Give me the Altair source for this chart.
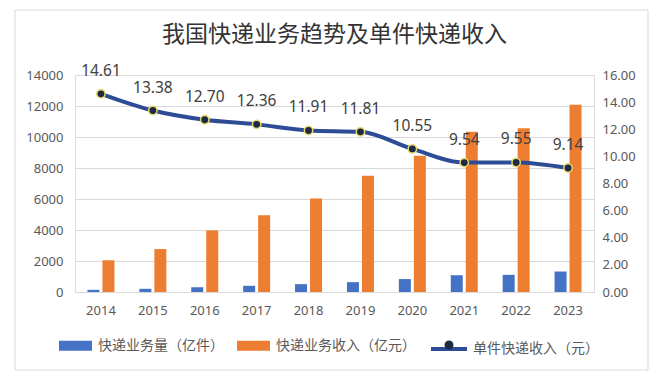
import altair as alt
import pandas as pd

years = ["2014", "2015", "2016", "2017", "2018", "2019", "2020", "2021", "2022", "2023"]
volume = [139.6, 206.7, 312.8, 400.6, 507.1, 635.2, 833.6, 1083.0, 1105.8, 1320.7]
revenue = [2045.4, 2769.6, 3974.4, 4957.1, 6038.4, 7497.8, 8795.4, 10332.3, 10566.7, 12074.0]
unit_rev = [14.61, 13.38, 12.70, 12.36, 11.91, 11.81, 10.55, 9.54, 9.55, 9.14]

s_vol = "快递业务量（亿件）"
s_rev = "快递业务收入（亿元）"
s_unit = "单件快递收入（元）"
title_text = "我国快递业务趋势及单件快递收入"

bars_df = pd.DataFrame(
    {"year": years * 2, "series": [s_vol] * len(years) + [s_rev] * len(years), "value": volume + revenue}
)
line_df = pd.DataFrame({"year": years, "unit": unit_rev, "lname": [s_unit] * len(years)})

CJK = "Noto Sans CJK SC"
LAT = "Noto Sans"
GRAY = "#595959"

x_enc = alt.X(
    "year:N",
    sort=years,
    title=None,
    scale=alt.Scale(paddingInner=0.48, paddingOuter=0.24),
    axis=alt.Axis(labelAngle=0, ticks=False, domainColor="#d9d9d9", labelPadding=12,
                  labelFont=LAT, labelFontSize=13, labelColor=GRAY),
)

border = alt.Chart(pd.DataFrame({"a": [0]})).mark_rect(
    filled=False, stroke="#d9d9d9", strokeWidth=1
).encode(x=alt.value(-60), x2=alt.value(573), y=alt.value(-65), y2=alt.value(295))

bars = alt.Chart(bars_df).mark_bar().encode(
    x=x_enc,
    xOffset=alt.XOffset("series:N", scale=alt.Scale(domain=[s_vol, s_rev], paddingInner=0.2)),
    y=alt.Y("value:Q", title=None, scale=alt.Scale(domain=[0, 14000]),
            axis=alt.Axis(values=list(range(0, 14001, 2000)), format="d", domain=False, ticks=False,
                          labelPadding=12, gridColor="#d9d9d9", labelFont=LAT, labelFontSize=13,
                          labelColor=GRAY)),
    color=alt.Color("series:N", scale=alt.Scale(domain=[s_vol, s_rev], range=["#4472C4", "#ED7D31"]),
                    legend=alt.Legend(title=None, orient="none", direction="horizontal",
                                      legendX=-16, legendY=254,
                                      symbolType="M-1,-0.3H1V0.3H-1Z", symbolSize=1089,
                                      symbolStrokeWidth=0, labelOffset=6, columnPadding=13,
                                      labelFont=CJK, labelFontSize=14, labelColor=GRAY)),
)

y_right = alt.Y("unit:Q", title=None, scale=alt.Scale(domain=[0, 16]),
                axis=alt.Axis(orient="right", values=list(range(0, 17, 2)), format=".2f", domain=False,
                              ticks=False, grid=False, labelPadding=8, labelFont=LAT, labelFontSize=13,
                              labelColor=GRAY))

line = alt.Chart(line_df).mark_line(strokeWidth=4, interpolate="monotone").encode(
    x=alt.X("year:N", sort=years),
    y=y_right,
    stroke=alt.Stroke("lname:N", scale=alt.Scale(range=["#2E4C96"]),
                      legend=alt.Legend(title=None, orient="none", legendX=354, legendY=254,
                                        symbolType="stroke", symbolSize=1296, symbolStrokeWidth=4,
                                        labelOffset=4, labelFont=CJK, labelFontSize=14, labelColor=GRAY)),
)

points = alt.Chart(line_df).mark_point(filled=True, fill="#1E2A44", stroke="#E6D86A", strokeWidth=1.5,
                                       size=70, opacity=1).encode(
    x=alt.X("year:N", sort=years),
    y=y_right,
    shape=alt.Shape("lname:N", scale=alt.Scale(range=["circle"]),
                    legend=alt.Legend(title=None, orient="none", legendX=367, legendY=263,
                                      symbolSize=80, symbolFillColor="#1E2A44", symbolStrokeColor="#E6D86A",
                                      symbolStrokeWidth=1.5, labelExpr="''", labelFont=CJK,
                                      labelFontSize=14)),
)

labels = alt.Chart(line_df).mark_text(dy=-23, font=LAT, fontSize=15.5, color="#404040").encode(
    x=alt.X("year:N", sort=years),
    y=y_right,
    text=alt.Text("unit:Q", format=".2f"),
)

right = alt.layer(line, points, labels)

chart = alt.layer(border, bars, right).resolve_scale(y="independent").properties(
    width=519,
    height=217,
    autosize=alt.AutoSizeParams(type="none"),
    padding={"left": 75, "top": 75, "right": 75, "bottom": 84},
    title=alt.TitleParams(title_text, font=CJK, fontSize=23, fontWeight="normal", color="#333333",
                          anchor="middle", frame="group", baseline="bottom", offset=-60),
).configure_view(stroke=None).configure(background="white")

chart.save("out.html", embed_options={"renderer": "svg", "actions": False})
